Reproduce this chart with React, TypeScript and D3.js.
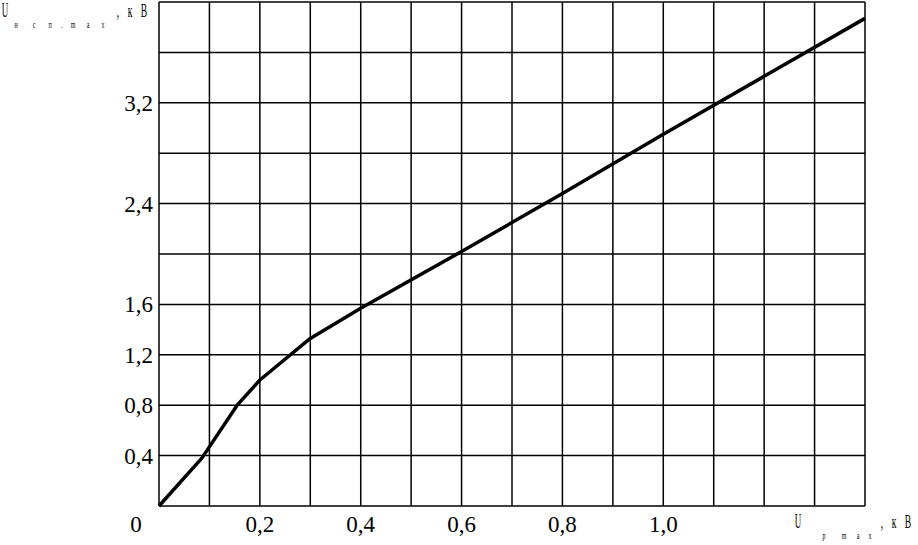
import React, { useEffect, useRef } from 'react';
import * as d3 from 'd3';

// curve U_nsp.max (kV) vs U_p.max (kV)
const curveX = [0, 0.085, 0.155, 0.2, 0.3, 0.4, 0.6, 0.8, 1.0, 1.2, 1.4];
const curveY = [0, 0.38, 0.8, 1.0, 1.33, 1.57, 2.02, 2.48, 2.95, 3.41, 3.87];

const xGrid = d3.range(0, 15).map(i => i / 10);
const yGrid = d3.range(0, 11).map(i => (i * 4) / 10);
const xTickVals = [0.2, 0.4, 0.6, 0.8, 1.0];
const yTickVals = [0.4, 0.8, 1.2, 1.6, 2.4, 3.2];

const fmt = (v: number) => v.toFixed(1).replace('.', ',');

const App: React.FC = () => {
  const ref = useRef<SVGSVGElement>(null);

  useEffect(() => {
    const W = 918, H = 545;
    const m = { left: 159, right: 53, top: 2, bottom: 39 };
    const svg = d3.select(ref.current).attr('width', W).attr('height', H).html('');

    const x = d3.scaleLinear().domain([0, 1.4]).range([m.left, W - m.right]);
    const y = d3.scaleLinear().domain([0, 4.0]).range([H - m.bottom, m.top]);

    const g = svg.append('g');

    // grid
    g.selectAll('line.vx').data(xGrid).enter().append('line')
      .attr('x1', d => x(d)).attr('x2', d => x(d))
      .attr('y1', y(0)).attr('y2', y(4))
      .attr('stroke', '#000').attr('stroke-width', 1.5);
    g.selectAll('line.hy').data(yGrid).enter().append('line')
      .attr('x1', x(0)).attr('x2', x(1.4))
      .attr('y1', d => y(d)).attr('y2', d => y(d))
      .attr('stroke', '#000').attr('stroke-width', 1.5);

    // curve
    const pts = curveX.map((v, i) => [v, curveY[i]] as [number, number]);
    g.append('path')
      .attr('d', d3.line<[number, number]>().x(d => x(d[0])).y(d => y(d[1]))(pts)!)
      .attr('fill', 'none').attr('stroke', '#000').attr('stroke-width', 3.5)
      .attr('stroke-linejoin', 'round');

    const font = '"Liberation Serif", "Times New Roman", serif';

    // y tick labels
    g.selectAll('text.yt').data(yTickVals).enter().append('text')
      .attr('x', 153).attr('y', d => y(d)).attr('dy', '0.35em')
      .attr('text-anchor', 'end').attr('font-family', font).attr('font-size', 23)
      .text(d => fmt(d));

    // x tick labels
    g.selectAll('text.xt').data(xTickVals).enter().append('text')
      .attr('x', d => x(d)).attr('y', 532)
      .attr('text-anchor', 'middle').attr('font-family', font).attr('font-size', 23)
      .text(d => fmt(d));
    g.append('text').attr('x', 136).attr('y', 532).attr('text-anchor', 'middle')
      .attr('font-family', font).attr('font-size', 23).text('0');

    // axis titles: condensed glyphs, spaced out one by one
    const glyph = (t: d3.Selection<SVGGElement, unknown, null, undefined>, c: string, cx: number, cy: number, size: number, sx: number) =>
      t.append('text').attr('transform', `translate(${cx},${cy}) scale(${sx},1)`)
        .attr('text-anchor', 'middle').attr('font-size', size).text(c);

    const title = (x0: number, y0: number, sub: string[], subX: number[], tail: number) => {
      const t = svg.append('g').attr('font-family', font).attr('fill', '#000');
      glyph(t, 'U', x0, y0, 20, 0.45);
      sub.forEach((c, i) => glyph(t, c, subX[i], y0 + 11, 11, 0.55));
      [',', 'к', 'В'].forEach((c, i) => glyph(t, c, tail + [0, 12, 26][i], y0, 19, 0.5));
    };
    title(5, 17, ['н', 'с', 'п', '.', 'm', 'a', 'x'], [16, 34, 50, 62, 73, 88, 103], 118);
    title(798, 528, ['p', 'm', 'a', 'x'], [824, 844, 858, 870], 882);
  }, []);

  return <svg ref={ref} style={{ position: 'absolute', left: 0, top: 0, background: '#fff' }} />;
};

export default App;
